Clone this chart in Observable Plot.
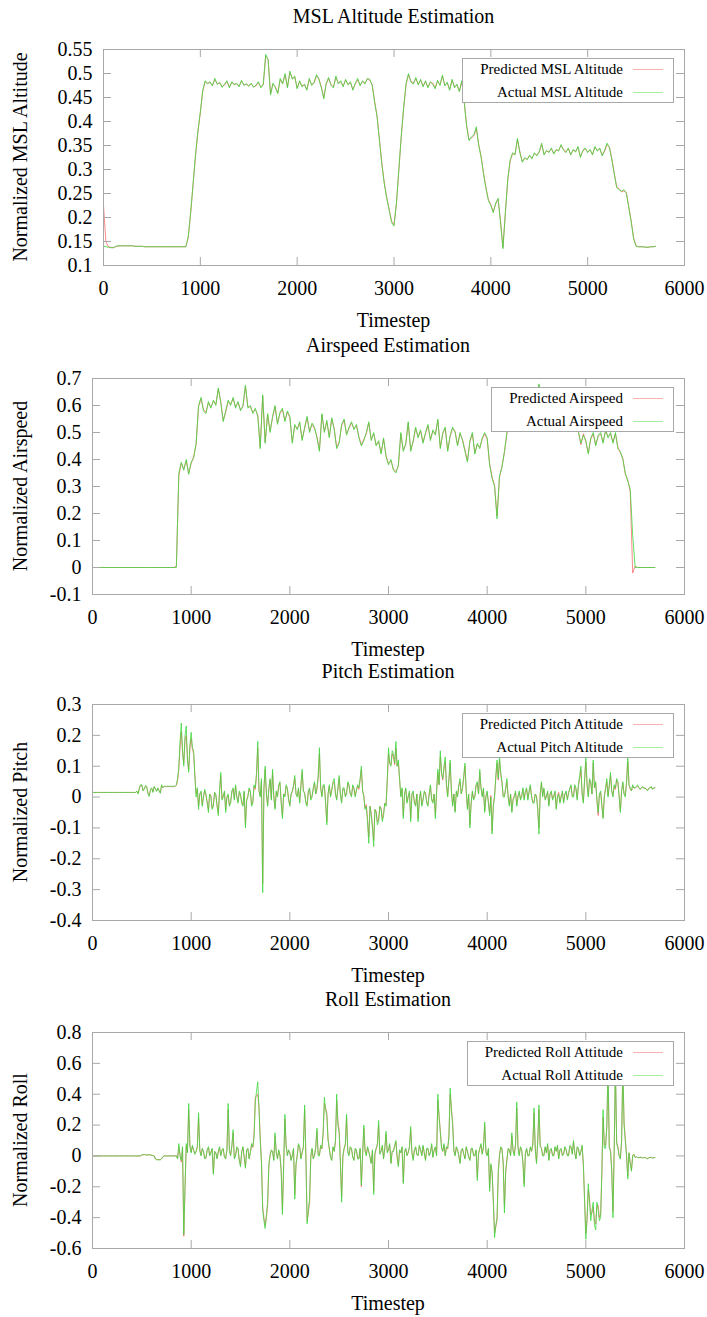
<!DOCTYPE html>
<html><head><meta charset="utf-8">
<script src="https://cdn.jsdelivr.net/npm/d3@7"></script>
<script src="https://cdn.jsdelivr.net/npm/@observablehq/plot@0.6"></script>
<style>
body{margin:0;background:#fff;}
#page{position:relative;width:707px;height:1317px;font-family:'Liberation Serif','Times New Roman',serif;color:#000;overflow:hidden;background:#fff}
#page svg{font-family:'Liberation Serif','Times New Roman',serif !important}
#page svg text{font-family:'Liberation Serif','Times New Roman',serif !important}
.abs{position:absolute;white-space:nowrap;line-height:20px;font-size:20px}
.ctr{transform:translate(-50%,-50%)}
.rot{transform:translate(-50%,-50%) rotate(-90deg)}
.legend{position:absolute;box-sizing:border-box;height:45px;border:1px solid #a8a8a8;background:#fff;padding:0 10px 0 17px;font-size:15px}
.row{display:flex;align-items:center;justify-content:flex-end;height:20px;line-height:20px;white-space:nowrap}
.row + .row{margin-top:3px}
.sample{width:30px;height:1px;margin-left:10px}
svg{position:absolute;left:0}
</style></head><body><div id="page"></div>
<script>
// ---------- data ----------
// altitude & airspeed: one value every 25 timesteps; pitch & roll: every 12.5 timesteps (t = 0 … 5700)
const xTicks = [0,1000,2000,3000,4000,5000,6000];
const altTicks = [0.1,0.15,0.2,0.25,0.3,0.35,0.4,0.45,0.5,0.55];
const airTicks = [-0.1,0,0.1,0.2,0.3,0.4,0.5,0.6,0.7];
const pitchTicks = [-0.4,-0.3,-0.2,-0.1,0,0.1,0.2,0.3];
const rollTicks = [-0.6,-0.4,-0.2,0,0.2,0.4,0.6,0.8];

const titles = ["MSL Altitude Estimation","Airspeed Estimation","Pitch Estimation","Roll Estimation"];
const yLabels = ["Normalized MSL Altitude","Normalized Airspeed","Normalized Pitch","Normalized Roll"];
const xLabel = "Timestep";
const predictedNames = ["Predicted MSL Altitude","Predicted Airspeed","Predicted Pitch Attitude","Predicted Roll Attitude"];
const actualNames = ["Actual MSL Altitude","Actual Airspeed","Actual Pitch Altitude","Actual Roll Attitude"];

const altActual = [
0.140,0.139,0.138,0.137,0.137,0.140,0.141,0.141,0.141,0.141,
0.141,0.141,0.141,0.140,0.140,0.140,0.140,0.139,0.139,0.139,
0.139,0.139,0.139,0.139,0.139,0.139,0.139,0.139,0.139,0.139,
0.139,0.139,0.139,0.139,0.139,0.160,0.210,0.270,0.330,0.380,
0.420,0.465,0.485,0.478,0.483,0.474,0.490,0.477,0.482,0.471,
0.478,0.485,0.470,0.483,0.476,0.480,0.472,0.486,0.475,0.479,
0.473,0.480,0.471,0.476,0.483,0.470,0.478,0.540,0.528,0.455,
0.480,0.470,0.458,0.490,0.478,0.500,0.470,0.505,0.488,0.495,
0.468,0.485,0.472,0.478,0.465,0.490,0.475,0.482,0.498,0.487,
0.470,0.447,0.480,0.492,0.475,0.470,0.495,0.478,0.485,0.472,
0.488,0.476,0.483,0.465,0.480,0.490,0.474,0.485,0.478,0.490,
0.488,0.475,0.440,0.410,0.360,0.310,0.270,0.240,0.215,0.190,
0.182,0.230,0.300,0.370,0.430,0.480,0.500,0.482,0.478,0.492,
0.476,0.488,0.472,0.485,0.470,0.483,0.478,0.468,0.486,0.475,
0.497,0.474,0.482,0.465,0.488,0.470,0.478,0.462,0.485,0.440,
0.390,0.360,0.368,0.372,0.389,0.350,0.325,0.290,0.260,0.235,
0.225,0.210,0.230,0.240,0.190,0.135,0.210,0.280,0.320,0.335,
0.330,0.365,0.335,0.315,0.325,0.320,0.330,0.322,0.335,0.328,
0.338,0.355,0.330,0.340,0.335,0.345,0.332,0.342,0.338,0.352,
0.340,0.335,0.345,0.330,0.342,0.336,0.348,0.325,0.340,0.345,
0.335,0.342,0.330,0.348,0.338,0.345,0.328,0.340,0.355,0.345,
0.320,0.290,0.262,0.258,0.255,0.258,0.250,0.220,0.190,0.155,
0.140,0.139,0.139,0.139,0.138,0.138,0.139,0.139,0.140];
const altPredicted = [
0.225,0.150,0.139,0.138,0.137,0.139,0.141,0.141,0.141,0.141,
0.141,0.141,0.141,0.140,0.140,0.140,0.140,0.139,0.139,0.139,
0.139,0.139,0.139,0.139,0.139,0.139,0.139,0.139,0.139,0.139,
0.139,0.139,0.139,0.139,0.139,0.158,0.208,0.268,0.328,0.378,
0.418,0.463,0.483,0.480,0.481,0.476,0.487,0.479,0.480,0.473,
0.476,0.483,0.472,0.481,0.478,0.478,0.474,0.484,0.477,0.477,
0.475,0.478,0.473,0.474,0.481,0.472,0.476,0.536,0.530,0.458,
0.478,0.472,0.460,0.487,0.480,0.497,0.472,0.502,0.490,0.492,
0.470,0.483,0.474,0.476,0.467,0.487,0.477,0.480,0.495,0.489,
0.472,0.450,0.478,0.489,0.477,0.472,0.492,0.480,0.483,0.474,
0.486,0.478,0.481,0.467,0.478,0.487,0.476,0.483,0.480,0.488,
0.486,0.477,0.442,0.412,0.362,0.312,0.272,0.242,0.217,0.193,
0.185,0.228,0.298,0.368,0.428,0.477,0.497,0.484,0.480,0.489,
0.478,0.486,0.474,0.483,0.472,0.481,0.480,0.470,0.484,0.477,
0.494,0.476,0.480,0.467,0.486,0.472,0.476,0.464,0.483,0.442,
0.392,0.362,0.366,0.370,0.386,0.352,0.327,0.292,0.262,0.237,
0.227,0.212,0.228,0.238,0.192,0.138,0.208,0.278,0.318,0.333,
0.332,0.362,0.337,0.317,0.323,0.322,0.328,0.324,0.333,0.330,
0.336,0.352,0.332,0.338,0.337,0.343,0.334,0.340,0.340,0.350,
0.342,0.337,0.343,0.332,0.340,0.338,0.346,0.327,0.338,0.343,
0.337,0.340,0.332,0.346,0.340,0.343,0.330,0.338,0.352,0.347,
0.322,0.292,0.264,0.260,0.253,0.256,0.252,0.222,0.192,0.157,
0.141,0.139,0.139,0.139,0.138,0.138,0.139,0.139,0.140];

const airActual = [
0,0,0,0,0,0,0,0,0,0,
0,0,0,0,0,0,0,0,0,0,
0,0,0,0,0,0,0,0,0,0,
0,0,0,0,0,0.350,0.390,0.360,0.400,0.345,
0.390,0.405,0.460,0.600,0.630,0.580,0.570,0.615,0.590,0.620,
0.600,0.665,0.610,0.540,0.580,0.620,0.600,0.630,0.590,0.615,
0.580,0.600,0.675,0.590,0.600,0.570,0.590,0.560,0.440,0.640,
0.460,0.570,0.500,0.560,0.600,0.530,0.575,0.590,0.540,0.580,
0.560,0.460,0.530,0.510,0.540,0.470,0.520,0.560,0.500,0.535,
0.520,0.480,0.430,0.570,0.500,0.545,0.480,0.555,0.510,0.440,
0.460,0.530,0.550,0.490,0.520,0.540,0.510,0.530,0.480,0.450,
0.470,0.500,0.540,0.470,0.500,0.450,0.470,0.420,0.480,0.410,
0.380,0.400,0.360,0.350,0.380,0.500,0.430,0.460,0.540,0.430,
0.470,0.520,0.480,0.510,0.460,0.500,0.530,0.470,0.510,0.490,
0.550,0.440,0.500,0.520,0.430,0.490,0.520,0.500,0.450,0.500,
0.470,0.430,0.390,0.470,0.500,0.420,0.460,0.440,0.480,0.500,
0.480,0.380,0.330,0.300,0.180,0.340,0.370,0.430,0.500,0.560,
0.580,0.600,0.560,0.620,0.590,0.610,0.570,0.630,0.600,0.590,
0.620,0.680,0.600,0.580,0.610,0.570,0.600,0.560,0.590,0.550,
0.570,0.540,0.580,0.530,0.560,0.520,0.550,0.500,0.460,0.490,
0.470,0.420,0.480,0.500,0.450,0.490,0.500,0.460,0.510,0.480,
0.500,0.460,0.500,0.440,0.430,0.400,0.350,0.320,0.290,0.120,
0,0,0,0,0,0,0,0,0];
const airPredicted = [
0,0,0,0,0,0,0,0,0,0,
0,0,0,0,0,0,0,0,0,0,
0,0,0,0,0,0,0,0,0,0,
0,0,0,0,0.005,0.340,0.385,0.365,0.395,0.350,
0.385,0.410,0.455,0.595,0.625,0.585,0.575,0.610,0.595,0.615,
0.605,0.660,0.615,0.545,0.575,0.615,0.605,0.625,0.595,0.610,
0.585,0.595,0.670,0.595,0.595,0.575,0.585,0.565,0.445,0.635,
0.465,0.565,0.505,0.555,0.595,0.535,0.570,0.585,0.545,0.575,
0.555,0.465,0.525,0.515,0.535,0.475,0.515,0.555,0.505,0.530,
0.515,0.485,0.435,0.565,0.505,0.540,0.485,0.550,0.515,0.445,
0.465,0.525,0.545,0.495,0.515,0.535,0.515,0.525,0.485,0.455,
0.475,0.495,0.535,0.475,0.495,0.455,0.465,0.425,0.475,0.415,
0.385,0.395,0.365,0.355,0.375,0.495,0.435,0.455,0.535,0.435,
0.465,0.515,0.485,0.505,0.465,0.495,0.525,0.475,0.505,0.495,
0.545,0.445,0.495,0.515,0.435,0.485,0.515,0.505,0.455,0.495,
0.475,0.435,0.395,0.465,0.495,0.425,0.455,0.445,0.475,0.495,
0.475,0.385,0.335,0.305,0.190,0.335,0.375,0.425,0.495,0.555,
0.575,0.595,0.565,0.615,0.595,0.605,0.575,0.625,0.595,0.595,
0.615,0.675,0.605,0.585,0.605,0.575,0.595,0.565,0.585,0.555,
0.565,0.545,0.575,0.535,0.555,0.525,0.545,0.505,0.455,0.495,
0.465,0.425,0.475,0.495,0.455,0.485,0.495,0.465,0.505,0.485,
0.495,0.465,0.495,0.445,0.425,0.405,0.345,0.325,0.280,-0.020,
0.005,0,0,0,0,0,0,0,0];

const pitchActual = [
0.015,0.015,0.015,0.015,0.015,0.015,0.015,0.015,0.015,0.015,0.015,0.015,0.015,0.015,0.015,0.015,0.015,0.015,0.015,0.015,
0.015,0.015,0.015,0.015,0.015,0.015,0.015,0.015,0.015,0.015,0.015,0.015,0.015,0.015,0.015,0.015,0.020,0.010,0.030,0.040,
0.040,0.020,0.025,0.038,0.035,0.010,0.002,0.025,0.030,0.015,0.035,0.028,0.018,0.030,0.020,0.012,0.040,0.030,0.035,0.035,
0.035,0.035,0.035,0.035,0.035,0.035,0.035,0.035,0.040,0.060,0.100,0.180,0.240,0.150,0.100,0.200,0.230,0.120,0.080,0.170,
0.210,0.160,0.150,0.070,0.000,0.030,-0.040,0.010,0.020,-0.030,0.000,0.025,0.010,-0.020,-0.050,0.010,0.000,-0.040,-0.030,0.015,
0.010,-0.030,-0.060,0.020,0.080,-0.010,0.000,0.020,-0.050,0.000,0.010,-0.030,-0.020,0.020,0.030,-0.010,0.040,0.000,-0.020,0.020,
0.010,-0.020,-0.030,0.020,-0.100,-0.010,0.000,0.030,0.020,-0.030,-0.020,0.040,0.030,0.080,0.180,0.020,0.000,0.060,-0.310,0.030,
0.100,0.010,-0.030,0.030,0.060,-0.010,0.090,0.000,-0.040,0.020,0.000,0.040,0.050,-0.020,-0.070,0.010,0.000,0.040,0.030,-0.010,
-0.030,0.010,0.020,0.040,0.070,0.010,0.000,0.030,-0.020,0.040,0.090,0.020,0.010,-0.020,-0.030,0.020,0.030,-0.010,0.000,0.030,
0.050,0.010,0.030,0.070,0.160,0.030,0.000,0.040,0.040,-0.020,-0.090,0.010,0.040,0.000,0.020,0.050,0.060,0.010,-0.010,0.030,
0.070,0.010,-0.020,0.030,0.030,0.000,0.010,0.050,0.040,0.010,0.000,0.040,0.030,0.000,0.020,0.040,0.030,0.060,0.100,0.020,
0.000,-0.040,-0.030,-0.080,-0.150,-0.030,-0.060,-0.100,-0.160,-0.040,-0.050,-0.090,-0.080,-0.030,-0.040,-0.080,-0.060,-0.020,-0.030,0.060,
0.160,0.110,0.100,0.150,0.140,0.110,0.180,0.100,0.120,0.060,0.000,0.030,-0.070,0.010,0.030,-0.020,0.000,0.020,-0.080,0.010,
0.020,-0.020,-0.030,0.010,-0.080,-0.010,0.020,-0.030,-0.010,0.020,0.010,-0.020,-0.030,0.010,0.040,-0.010,-0.020,0.010,-0.070,0.020,
0.090,0.040,0.150,0.080,0.060,0.100,0.130,0.040,0.000,0.060,0.120,0.020,-0.030,0.010,-0.050,0.020,0.000,0.040,0.060,0.010,
0.030,0.070,0.110,0.020,-0.040,0.010,-0.100,-0.020,0.020,-0.010,0.000,0.040,0.050,0.010,0.090,0.030,0.000,0.030,-0.050,0.000,
0.020,-0.020,-0.060,0.000,-0.120,-0.030,0.000,0.070,0.120,0.060,0.130,0.080,0.050,0.000,0.000,0.030,0.060,0.000,-0.030,0.010,
-0.050,-0.010,0.000,0.020,-0.030,0.000,0.020,-0.010,0.000,0.030,-0.010,0.020,0.030,-0.010,0.020,0.040,0.000,-0.020,-0.020,0.010,
0.000,-0.040,-0.120,0.010,0.050,0.000,0.030,-0.010,0.000,0.020,-0.030,0.010,0.020,-0.010,0.000,0.020,-0.040,0.000,0.010,-0.020,
0.000,0.020,-0.020,0.010,0.020,-0.010,0.010,0.030,0.040,0.000,0.000,0.040,0.030,-0.010,0.040,0.070,0.100,0.010,-0.020,0.060,
0.130,0.040,0.000,0.060,0.050,0.010,0.120,0.030,0.050,-0.010,-0.050,0.010,0.020,-0.030,-0.070,0.000,0.030,0.060,0.000,0.040,
0.080,0.020,0.000,0.040,0.030,0.060,0.050,0.000,-0.050,0.020,0.050,0.010,0.000,0.050,0.130,0.040,0.030,0.020,0.040,0.030,
0.030,0.035,0.040,0.030,0.025,0.030,0.035,0.028,0.030,0.025,0.020,0.028,0.030,0.035,0.025,0.030,0.030];
const pitchPredicted = [
0.015,0.015,0.015,0.015,0.015,0.015,0.015,0.015,0.015,0.015,0.015,0.015,0.015,0.015,0.015,0.015,0.015,0.015,0.015,0.015,
0.015,0.015,0.015,0.015,0.015,0.015,0.015,0.015,0.015,0.015,0.015,0.015,0.015,0.015,0.015,0.015,0.018,0.012,0.028,0.037,
0.038,0.022,0.028,0.035,0.032,0.012,0.005,0.022,0.028,0.017,0.033,0.026,0.020,0.028,0.022,0.014,0.037,0.031,0.034,0.034,
0.034,0.034,0.034,0.034,0.034,0.034,0.034,0.034,0.038,0.055,0.090,0.165,0.210,0.145,0.110,0.185,0.200,0.125,0.090,0.160,
0.190,0.155,0.140,0.070,0.010,0.025,-0.030,0.010,0.015,-0.025,0.005,0.020,0.005,-0.015,-0.040,0.010,0.005,-0.035,-0.025,0.015,
0.005,-0.025,-0.050,0.015,0.070,-0.005,0.005,0.015,-0.040,0.000,0.005,-0.025,-0.015,0.015,0.025,-0.005,0.035,0.000,-0.015,0.015,
0.005,-0.015,-0.025,0.015,-0.090,-0.010,0.005,0.025,0.015,-0.025,-0.015,0.035,0.025,0.070,0.160,0.020,0.005,0.050,-0.280,0.025,
0.090,0.010,-0.025,0.025,0.055,-0.005,0.080,0.005,-0.035,0.015,0.005,0.035,0.045,-0.015,-0.060,0.010,0.005,0.035,0.025,-0.005,
-0.025,0.010,0.015,0.035,0.060,0.010,0.005,0.025,-0.015,0.035,0.080,0.020,0.015,-0.015,-0.025,0.015,0.025,-0.005,0.005,0.025,
0.045,0.010,0.025,0.060,0.140,0.030,0.005,0.035,0.035,-0.015,-0.080,0.010,0.035,0.005,0.025,0.045,0.050,0.010,-0.005,0.025,
0.060,0.010,-0.015,0.025,0.025,0.005,0.015,0.045,0.035,0.010,0.005,0.035,0.025,0.005,0.025,0.035,0.025,0.055,0.090,0.020,
0.005,-0.035,-0.025,-0.070,-0.130,-0.030,-0.050,-0.090,-0.140,-0.040,-0.045,-0.080,-0.070,-0.030,-0.035,-0.070,-0.050,-0.020,-0.025,0.050,
0.140,0.110,0.105,0.140,0.130,0.105,0.160,0.100,0.110,0.055,0.005,0.025,-0.060,0.010,0.025,-0.015,0.005,0.015,-0.070,0.010,
0.015,-0.015,-0.025,0.010,-0.070,-0.010,0.015,-0.025,-0.005,0.015,0.015,-0.015,-0.025,0.010,0.035,-0.005,-0.015,0.010,-0.060,0.015,
0.080,0.040,0.130,0.075,0.055,0.090,0.115,0.040,0.005,0.055,0.110,0.020,-0.025,0.010,-0.045,0.015,0.005,0.035,0.050,0.010,
0.030,0.060,0.100,0.020,-0.035,0.010,-0.090,-0.020,0.015,-0.005,0.005,0.035,0.045,0.010,0.080,0.030,0.005,0.025,-0.045,0.005,
0.015,-0.015,-0.050,0.005,-0.110,-0.025,0.005,0.060,0.110,0.055,0.120,0.075,0.045,0.005,0.005,0.025,0.050,0.005,-0.025,0.010,
-0.045,-0.005,0.005,0.015,-0.025,0.005,0.015,-0.005,0.005,0.025,-0.005,0.015,0.025,-0.005,0.015,0.035,0.005,-0.015,-0.015,0.010,
0.005,-0.035,-0.100,0.010,0.045,0.005,0.025,-0.005,0.005,0.015,-0.025,0.010,0.015,-0.005,0.005,0.015,-0.035,0.005,0.015,-0.015,
0.005,0.015,-0.015,0.010,0.015,-0.005,0.015,0.025,0.035,0.005,0.005,0.035,0.025,-0.005,0.035,0.060,0.090,0.010,-0.015,0.050,
0.115,0.040,0.005,0.055,0.045,0.010,0.110,0.030,0.045,-0.010,-0.060,0.005,0.015,-0.025,-0.065,0.005,0.025,0.050,0.005,0.035,
0.070,0.020,0.005,0.035,0.025,0.055,0.045,0.005,-0.045,0.020,0.045,0.010,0.005,0.045,0.115,0.040,0.025,0.020,0.035,0.030,
0.030,0.032,0.035,0.030,0.025,0.030,0.032,0.028,0.030,0.026,0.022,0.028,0.030,0.032,0.026,0.030,0.030];

const rollActual = [
0,0,0,0,0,0,0,0,0,0,0,0,0,0,0,0,0,0,0,0,
0,0,0,0,0,0,0,0,0,0,0,0,0,0,0,0,0,0,0,0,
0.008,0.008,0.010,0.007,0.005,0.008,0.008,0.006,0.005,0.002,0.000,-0.020,-0.025,-0.025,-0.025,-0.025,-0.020,-0.005,0.000,0.000,
0.000,0.000,0.000,0.000,0.000,0.000,0.000,0.000,0.000,-0.020,0.080,0.000,-0.030,0.060,-0.510,-0.200,0.080,0.020,0.340,0.060,
0.020,0.070,0.040,0.010,0.030,0.060,0.280,0.030,0.000,0.050,0.030,-0.020,-0.010,0.040,0.060,0.000,0.020,0.050,-0.120,0.030,
0.020,-0.020,0.030,0.060,0.000,0.040,0.050,-0.010,-0.020,0.040,0.340,0.030,0.000,0.070,0.170,-0.020,0.000,0.060,0.050,-0.030,
-0.070,0.030,0.060,-0.010,-0.080,0.040,0.050,-0.020,0.020,0.080,0.060,0.120,0.350,0.420,0.480,0.300,0.100,-0.050,-0.350,-0.420,
-0.470,-0.380,-0.300,-0.050,0.000,0.040,0.030,-0.030,0.150,0.020,-0.020,0.040,0.000,-0.100,-0.380,-0.050,0.270,0.060,0.000,0.040,
0.020,-0.030,0.000,0.050,-0.280,-0.050,0.000,0.080,0.060,-0.020,0.020,0.060,0.330,0.000,-0.440,-0.350,-0.280,0.000,0.050,-0.020,
0.000,0.060,0.180,0.000,0.000,0.070,0.050,0.150,0.380,0.300,0.260,0.100,0.050,-0.010,-0.030,0.060,0.030,0.100,0.400,0.200,
0.150,-0.050,-0.300,0.000,0.050,0.080,0.270,0.020,0.000,0.060,0.050,-0.010,-0.030,0.050,0.040,-0.020,-0.020,0.050,-0.190,0.010,
0.200,0.030,0.000,0.060,0.030,-0.010,-0.050,0.040,-0.250,0.020,0.050,0.080,0.230,0.010,0.030,0.070,-0.020,0.050,0.160,0.020,
0.040,0.080,-0.050,0.030,0.030,0.070,0.100,-0.010,-0.070,0.040,0.020,0.060,-0.180,0.030,0.050,0.000,0.020,0.060,0.190,0.020,
-0.030,0.040,0.060,0.010,0.000,0.070,0.040,0.000,0.070,0.020,-0.030,0.050,0.050,0.000,0.020,0.080,-0.010,0.040,0.060,0.000,
0.400,0.250,0.150,0.050,0.030,0.080,0.000,0.060,0.050,0.120,0.440,0.300,0.200,0.030,0.000,0.060,0.040,0.000,-0.050,0.040,
0.050,0.010,-0.020,0.060,0.030,-0.010,-0.030,0.050,0.050,0.000,0.000,0.040,-0.160,0.020,0.050,0.080,0.010,0.060,0.220,0.020,
0.000,0.050,-0.230,-0.050,-0.100,-0.300,-0.530,-0.450,-0.400,-0.100,0.000,0.060,0.050,-0.050,-0.370,-0.100,-0.030,0.050,0.040,0.000,
0.150,0.030,0.000,0.080,0.350,0.050,0.000,0.060,0.040,-0.050,-0.200,0.020,0.050,0.000,0.000,0.060,0.030,0.080,0.310,0.040,
-0.050,0.100,0.330,0.060,0.050,0.000,0.000,0.060,0.020,0.080,-0.030,0.040,0.050,0.000,0.000,0.060,0.030,0.070,-0.020,0.040,
0.050,0.000,0.010,0.060,0.040,0.000,0.000,0.070,0.060,0.010,0.100,0.020,-0.020,0.060,0.050,0.000,0.030,0.070,-0.050,-0.300,
-0.540,-0.400,-0.180,-0.300,-0.420,-0.350,-0.300,-0.450,-0.480,-0.300,-0.350,-0.420,-0.400,-0.100,0.300,0.050,0.050,0.200,0.600,0.050,
0.030,-0.100,-0.400,0.050,0.600,0.080,0.050,0.000,-0.020,0.100,0.600,0.200,0.100,0.000,-0.150,0.020,-0.050,-0.100,0.000,0.010,
-0.010,-0.005,-0.010,-0.012,-0.010,-0.008,-0.015,-0.010,-0.010,-0.015,-0.020,-0.012,-0.010,-0.008,-0.015,-0.012,-0.010];
const rollPredicted = [
0,0,0,0,0,0,0,0,0,0,0,0,0,0,0,0,0,0,0,0,
0,0,0,0,0,0,0,0,0,0,0,0,0,0,0,0,0,0,0,0,
0.006,0.007,0.009,0.007,0.006,0.007,0.007,0.006,0.005,0.002,0.001,-0.018,-0.022,-0.024,-0.024,-0.024,-0.018,-0.006,0.000,0.000,
0.000,0.000,0.000,0.000,0.000,0.000,0.000,0.000,0.002,-0.015,0.060,0.005,-0.040,0.050,-0.520,-0.220,0.060,0.025,0.300,0.070,
0.025,0.060,0.035,0.015,0.030,0.055,0.250,0.040,0.005,0.045,0.025,-0.015,-0.015,0.035,0.055,0.005,0.025,0.045,-0.110,0.030,
0.020,-0.015,0.025,0.055,0.005,0.035,0.045,-0.005,-0.015,0.040,0.300,0.040,0.010,0.060,0.150,-0.010,0.005,0.050,0.045,-0.025,
-0.060,0.025,0.055,-0.005,-0.070,0.035,0.045,-0.015,0.025,0.070,0.055,0.140,0.380,0.390,0.400,0.320,0.120,-0.030,-0.330,-0.400,
-0.450,-0.400,-0.320,-0.070,0.010,0.035,0.025,-0.025,0.130,0.025,-0.015,0.035,0.005,-0.090,-0.350,-0.070,0.240,0.070,0.010,0.035,
0.020,-0.025,0.005,0.045,-0.250,-0.060,0.005,0.070,0.055,-0.015,0.025,0.055,0.300,0.020,-0.420,-0.370,-0.300,-0.010,0.045,-0.015,
0.005,0.050,0.160,0.010,0.010,0.060,0.045,0.140,0.340,0.310,0.280,0.110,0.045,-0.005,-0.025,0.055,0.030,0.090,0.360,0.220,
0.170,-0.030,-0.270,-0.010,0.045,0.070,0.250,0.030,0.010,0.055,0.045,-0.005,-0.025,0.045,0.035,-0.015,-0.015,0.045,-0.200,0.000,
0.180,0.040,0.010,0.055,0.025,-0.005,-0.045,0.035,-0.230,0.010,0.045,0.070,0.200,0.020,0.035,0.060,-0.015,0.045,0.140,0.025,
0.040,0.070,-0.045,0.030,0.030,0.060,0.090,-0.005,-0.060,0.035,0.020,0.055,-0.170,0.020,0.045,0.005,0.025,0.055,0.170,0.025,
-0.020,0.035,0.055,0.010,0.005,0.060,0.040,0.005,0.060,0.020,-0.025,0.045,0.045,0.005,0.025,0.070,-0.005,0.035,0.055,0.005,
0.360,0.260,0.170,0.060,0.030,0.070,0.005,0.055,0.045,0.130,0.400,0.310,0.220,0.040,0.005,0.055,0.035,0.005,-0.045,0.035,
0.045,0.015,-0.015,0.055,0.030,-0.005,-0.025,0.045,0.045,0.005,0.005,0.035,-0.140,0.010,0.045,0.070,0.015,0.055,0.200,0.030,
0.005,0.040,-0.210,-0.060,-0.110,-0.280,-0.500,-0.460,-0.420,-0.120,0.010,0.055,0.045,-0.040,-0.330,-0.110,-0.025,0.045,0.040,0.005,
0.130,0.040,0.010,0.070,0.310,0.060,0.010,0.055,0.035,-0.040,-0.180,0.010,0.045,0.005,0.005,0.055,0.030,0.070,0.280,0.050,
-0.040,0.090,0.300,0.070,0.050,0.005,0.005,0.055,0.020,0.070,-0.025,0.035,0.045,0.005,0.005,0.055,0.030,0.060,-0.015,0.035,
0.045,0.005,0.015,0.055,0.040,0.005,0.005,0.060,0.055,0.015,0.090,0.025,-0.015,0.055,0.045,0.005,0.030,0.060,-0.060,-0.280,
-0.500,-0.420,-0.220,-0.280,-0.380,-0.370,-0.330,-0.420,-0.440,-0.320,-0.320,-0.400,-0.380,-0.120,0.250,0.070,0.070,0.180,0.550,0.060,
0.040,-0.080,-0.360,0.030,0.550,0.090,0.060,0.005,-0.015,0.090,0.550,0.220,0.110,0.010,-0.130,0.020,-0.045,-0.090,0.005,0.010,
-0.010,-0.006,-0.010,-0.011,-0.010,-0.009,-0.013,-0.010,-0.010,-0.014,-0.018,-0.012,-0.010,-0.009,-0.013,-0.012,-0.010];

// ---------- layout ----------
const W = 707, RIGHT = 684, FH = 216, TICK = 8, GRAY = "#a8a8a8";
const RED = "#ff3a3a", GREEN = "#3fd83f";
const FONT = "'Liberation Serif','Times New Roman',serif";
const panels = [
  {top: 49,  left: 103, step: 25,   domain: [0.1, 0.55], ticks: altTicks,   actual: altActual,   predicted: altPredicted},
  {top: 378, left: 92,  step: 25,   domain: [-0.1, 0.7], ticks: airTicks,   actual: airActual,   predicted: airPredicted},
  {top: 704, left: 92,  step: 12.5, domain: [-0.4, 0.3], ticks: pitchTicks, actual: pitchActual, predicted: pitchPredicted},
  {top: 1032,left: 92,  step: 12.5, domain: [-0.6, 0.8], ticks: rollTicks,  actual: rollActual,  predicted: rollPredicted}
];

const page = document.getElementById("page");
function addDiv(cls, text, css) {
  const d = document.createElement("div");
  d.className = cls; if (text != null) d.textContent = text;
  Object.assign(d.style, css); page.appendChild(d); return d;
}

panels.forEach((p, k) => {
  const pw = RIGHT - p.left;
  const svg = Plot.plot({
    width: W, height: 328,
    marginTop: 49, marginBottom: 328 - 49 - FH, marginLeft: p.left, marginRight: W - RIGHT,
    style: "font-family:" + FONT + ";font-size:20px;background:transparent;color:#000;overflow:visible;",
    x: {domain: [0, 6000]},
    y: {domain: p.domain},
    marks: [
      Plot.line(p.predicted, {x: (d, i) => i * p.step, y: d => d, stroke: RED, strokeWidth: 0.6}),
      Plot.line(p.actual, {x: (d, i) => i * p.step, y: d => d, stroke: GREEN, strokeWidth: 0.8}),
      Plot.tickY(p.ticks, {y: d => d, insetRight: pw - TICK, stroke: GRAY}),
      Plot.tickY(p.ticks, {y: d => d, insetLeft: pw - TICK, stroke: GRAY}),
      Plot.tickX(xTicks, {x: d => d, insetBottom: FH - TICK, stroke: GRAY}),
      Plot.tickX(xTicks, {x: d => d, insetTop: FH - TICK, stroke: GRAY}),
      Plot.frame({stroke: GRAY}),
      Plot.axisX(xTicks, {tickSize: 0, tickPadding: 15, tickFormat: d => String(d), label: null, fontSize: 20, fontFamily: FONT}),
      Plot.axisY(p.ticks, {tickSize: 0, tickPadding: 11, tickFormat: d => String(d), label: null, fontSize: 20, fontFamily: FONT})
    ]
  });
  svg.style.top = (p.top - 49) + "px";
  page.appendChild(svg);

  const cx = (p.left + RIGHT) / 2;
  addDiv("abs ctr", titles[k], {left: cx + "px", top: (p.top - 33) + "px"});
  addDiv("abs rot", yLabels[k], {left: "20px", top: (p.top + FH / 2) + "px"});
  addDiv("abs ctr", xLabel, {left: cx + "px", top: (p.top + 271) + "px"});

  const lg = addDiv("legend", null, {right: (W - 674) + "px", top: (p.top + 9) + "px"});
  [[predictedNames[k], "#f7b0b0"], [actualNames[k], "#a8eca4"]].forEach(([name, col]) => {
    const r = document.createElement("div"); r.className = "row";
    const s = document.createElement("span"); s.textContent = name; r.appendChild(s);
    const l = document.createElement("div"); l.className = "sample"; l.style.background = col; r.appendChild(l);
    lg.appendChild(r);
  });
});
</script></body></html>
